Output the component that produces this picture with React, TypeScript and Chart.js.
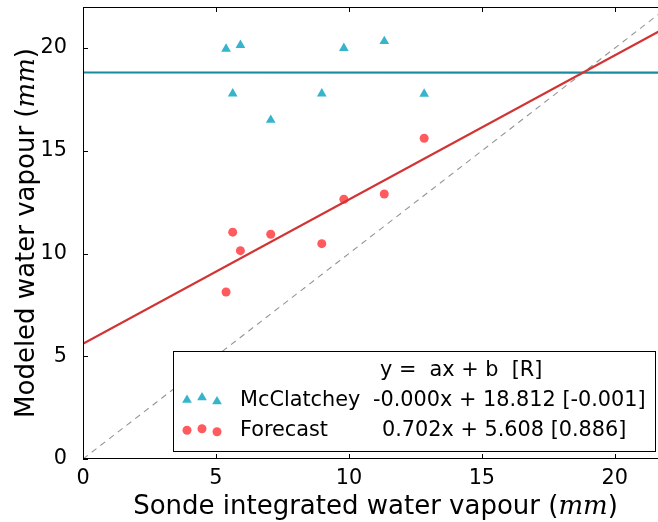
import React, { useEffect, useRef } from 'react';
import { Chart, registerables } from 'chart.js';

Chart.register(...registerables);

// ---- data ----
const sondeIWV = [5.38, 5.63, 5.92, 7.06, 8.98, 9.81, 11.33, 12.83];
const mcclatcheyIWV = [19.96, 17.78, 20.14, 16.5, 17.78, 20.0, 20.33, 17.77];
const forecastIWV = [8.13, 11.04, 10.14, 10.94, 10.48, 12.64, 12.9, 15.61];

const seriesNames = ['McClatchey', 'Forecast'];
const fitSlopes = [-0.0001, 0.702];
const fitIntercepts = [18.812, 5.608];
const fitR = [-0.001, 0.886];

const xTicks = [0, 5, 10, 15, 20];
const yTicks = [0, 5, 10, 15, 20];
const axisRange = [0, 22];

const xTitle = 'Sonde integrated water vapour (';
const yTitle = 'Modeled water vapour (';
const unitText = 'mm';
const legendHeader = 'y =  ax + b  [R]';

// ---- styles ----
const triColor = '#36b4cb';
const circColor = '#ff5b5f';
const mcLineColor = '#1a8a9e';
const fcLineColor = '#d23434';
const FONT = 'DejaVu Sans';
const SMALL = 20.8;

const fitLine = (i: number) =>
  axisRange.map((x) => ({ x, y: fitSlopes[i] * x + fitIntercepts[i] }));

function drawTri(ctx: CanvasRenderingContext2D, x: number, y: number, r: number) {
  ctx.beginPath();
  let a = 0;
  ctx.moveTo(x + Math.sin(a) * r, y - Math.cos(a) * r);
  a += (2 * Math.PI) / 3;
  ctx.lineTo(x + Math.sin(a) * r, y - Math.cos(a) * r);
  a += (2 * Math.PI) / 3;
  ctx.lineTo(x + Math.sin(a) * r, y - Math.cos(a) * r);
  ctx.closePath();
  ctx.fill();
}
function drawCirc(ctx: CanvasRenderingContext2D, x: number, y: number, r: number) {
  ctx.beginPath();
  ctx.arc(x, y, r, 0, Math.PI * 2);
  ctx.fill();
}

function drawTitle(
  ctx: CanvasRenderingContext2D,
  main: string,
  cx: number,
  cy: number,
  rotate: boolean
) {
  const fMain = `26px "${FONT}"`;
  const fUnit = `italic 26px "DejaVu Serif"`;
  ctx.save();
  ctx.font = fMain;
  const w1 = ctx.measureText(main).width;
  const w3 = ctx.measureText(')').width;
  ctx.font = fUnit;
  const w2 = ctx.measureText(unitText).width;
  const total = w1 + w2 + w3;
  ctx.translate(cx, cy);
  if (rotate) ctx.rotate(-Math.PI / 2);
  ctx.fillStyle = '#000';
  ctx.textBaseline = 'alphabetic';
  ctx.textAlign = 'left';
  let x = -total / 2;
  ctx.font = fMain;
  ctx.fillText(main, x, 0);
  x += w1;
  ctx.font = fUnit;
  ctx.fillText(unitText, x, 0);
  x += w2;
  ctx.font = fMain;
  ctx.fillText(')', x, 0);
  ctx.restore();
}

const framePlugin = {
  id: 'frame',
  afterDatasetsDraw(chart: any) {
    const { ctx, chartArea: ca, scales } = chart;
    const xs = scales.x;
    const ys = scales.y;
    ctx.save();
    // frame
    ctx.strokeStyle = '#000';
    ctx.lineWidth = 1;
    ctx.strokeRect(Math.round(ca.left) + 0.5, Math.round(ca.top) + 0.5, ca.right - ca.left, ca.bottom - ca.top - 1);
    // inward ticks
    const tl = 5;
    ctx.beginPath();
    xTicks.forEach((v) => {
      const px = Math.round(xs.getPixelForValue(v)) + 0.5;
      ctx.moveTo(px, ca.bottom);
      ctx.lineTo(px, ca.bottom - tl);
      ctx.moveTo(px, ca.top);
      ctx.lineTo(px, ca.top + tl);
    });
    yTicks.forEach((v) => {
      const py = Math.round(ys.getPixelForValue(v)) + 0.5;
      ctx.moveTo(ca.left, py);
      ctx.lineTo(ca.left + tl, py);
      ctx.moveTo(ca.right, py);
      ctx.lineTo(ca.right - tl, py);
    });
    ctx.stroke();

    // legend
    const bw = 482;
    const bh = 100;
    const bx = Math.round(ca.right - 13 - bw);
    const by = Math.round(ca.bottom - 8 - bh);
    ctx.fillStyle = '#fff';
    ctx.fillRect(bx, by, bw, bh);
    ctx.strokeStyle = '#000';
    ctx.strokeRect(bx + 0.5, by + 0.5, bw, bh);
    ctx.fillStyle = '#000';
    ctx.font = `${SMALL}px "${FONT}"`;
    ctx.textBaseline = 'alphabetic';
    ctx.textAlign = 'left';
    ctx.fillText(legendHeader, bx + 207, by + 25);
    const valueX = [200, 209];
    seriesNames.forEach((name, i) => {
      const base = by + 55 + i * 30;
      const txt = `${fitSlopes[i].toFixed(3)}x + ${fitIntercepts[i].toFixed(3)} [${fitR[i].toFixed(3)}]`;
      ctx.fillStyle = '#000';
      ctx.fillText(name, bx + 67, base);
      ctx.fillText(txt, bx + valueX[i], base);
    });
    const mx = [14, 29, 44];
    const triDy = [49, 46.5, 50.5];
    const circDy = [79.3, 77.7, 80.7];
    ctx.fillStyle = triColor;
    mx.forEach((dx, k) => drawTri(ctx, bx + dx, by + triDy[k], 5.6));
    ctx.fillStyle = circColor;
    mx.forEach((dx, k) => drawCirc(ctx, bx + dx, by + circDy[k], 4.5));
    ctx.restore();
  },
  afterDraw(chart: any) {
    const { ctx, chartArea: ca, scales } = chart;
    const midX = scales.x.getPixelForValue((axisRange[0] + axisRange[1]) / 2);
    drawTitle(ctx, xTitle, midX, 514, false);
    drawTitle(ctx, yTitle, 33.5, (ca.top + ca.bottom) / 2, true);
  },
};

export default function App() {
  const ref = useRef<HTMLCanvasElement | null>(null);
  useEffect(() => {
    if (!ref.current) return;
    const tickFont = { family: FONT, size: SMALL };
    const chart = new Chart(ref.current, {
      type: 'scatter',
      data: {
        datasets: [
          {
            label: 'one-to-one',
            data: axisRange.map((v) => ({ x: v, y: v })),
            showLine: true,
            borderColor: '#959595',
            borderWidth: 1.1,
            borderDash: [6, 5],
            pointRadius: 0,
            order: 5,
          },
          {
            label: 'McClatchey',
            data: sondeIWV.map((x, i) => ({ x, y: mcclatcheyIWV[i] })),
            pointStyle: 'triangle',
            pointRadius: 5.6,
            backgroundColor: triColor,
            borderWidth: 0,
            order: 4,
          },
          {
            label: 'Forecast',
            data: sondeIWV.map((x, i) => ({ x, y: forecastIWV[i] })),
            pointStyle: 'circle',
            pointRadius: 4.5,
            backgroundColor: circColor,
            borderWidth: 0,
            order: 3,
          },
          {
            label: 'McClatchey fit',
            data: fitLine(0),
            showLine: true,
            borderColor: mcLineColor,
            borderWidth: 2.2,
            pointRadius: 0,
            order: 2,
          },
          {
            label: 'Forecast fit',
            data: fitLine(1),
            showLine: true,
            borderColor: fcLineColor,
            borderWidth: 2.2,
            pointRadius: 0,
            order: 1,
          },
        ],
      },
      options: {
        animation: false,
        responsive: false,
        devicePixelRatio: 1,
        layout: { autoPadding: false, padding: { top: 7, right: 0, left: 0, bottom: 0 } },
        plugins: { legend: { display: false }, tooltip: { enabled: false } },
        scales: {
          x: {
            type: 'linear',
            min: axisRange[0],
            max: axisRange[1],
            grid: { display: false },
            border: { display: false },
            ticks: { font: tickFont, color: '#000', padding: -1, maxRotation: 0, includeBounds: false },
            afterBuildTicks: (s: any) => {
              s.ticks = xTicks.map((value) => ({ value }));
            },
            afterFit: (s: any) => {
              s.height = 63;
              s.paddingLeft = 0;
              s.paddingRight = 0;
            },
          },
          y: {
            type: 'linear',
            min: axisRange[0],
            max: axisRange[1],
            grid: { display: false },
            border: { display: false },
            ticks: { font: tickFont, color: '#000', padding: 8, includeBounds: false },
            afterBuildTicks: (s: any) => {
              s.ticks = yTicks.map((value) => ({ value }));
            },
            afterFit: (s: any) => {
              s.width = 83;
              s.paddingTop = 0;
              s.paddingBottom = 0;
            },
          },
        },
      },
      plugins: [framePlugin],
    });
    return () => chart.destroy();
  }, []);
  return (
    <div
      style={{
        position: 'fixed',
        left: 0,
        top: 0,
        width: 658,
        height: 522,
        overflow: 'hidden',
        background: '#fff',
      }}
    >
      <canvas ref={ref} width={668} height={522} style={{ display: 'block' }} />
    </div>
  );
}
